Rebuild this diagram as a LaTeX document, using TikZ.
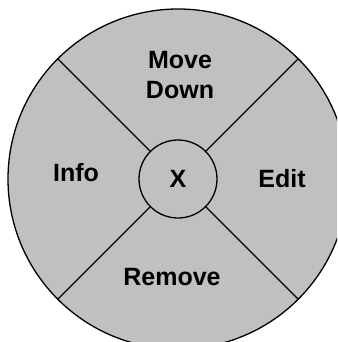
\documentclass[tikz,border=0pt]{standalone}
\usepackage{fontspec}
\setmainfont{Liberation Sans}
\usepackage{tikz}
\definecolor{wheelgray}{HTML}{C0C0C0}

\begin{document}
\begin{tikzpicture}[
    x=1pt, y=-1pt,
    ring/.style={circle, draw=black, fill=wheelgray, line width=1.3pt,
                 minimum size=340pt, inner sep=0pt},
    hub/.style={circle, draw=black, fill=wheelgray, line width=1.3pt,
                 minimum size=78pt, inner sep=0pt,
                 font=\fontsize{25}{30}\selectfont\bfseries},
    lbl/.style={font=\fontsize{25}{30}\selectfont\bfseries, align=center, inner sep=0pt},
    spoke/.style={line width=1.3pt, draw=black}
  ]
  \useasboundingbox (0,0) rectangle (337,342);
  \clip (0,0) rectangle (337,342);
  \node[ring] (wheel) at (178,179) {};
  \node[hub] (xbtn) at (178,179) {X};

  \draw[spoke] (wheel.135) -- (xbtn.135);
  \draw[spoke] (wheel.45)  -- (xbtn.45);
  \draw[spoke] (wheel.225) -- (xbtn.225);
  \draw[spoke] (wheel.315) -- (xbtn.315);

  \node[lbl] (move) at (180,75)  {Move\\Down};
  \node[lbl] (info) at (76,173)  {Info};
  \node[lbl] (edit) at (282,179) {Edit};
  \node[lbl] (rem)  at (172,277) {Remove};
\end{tikzpicture}
\end{document}
